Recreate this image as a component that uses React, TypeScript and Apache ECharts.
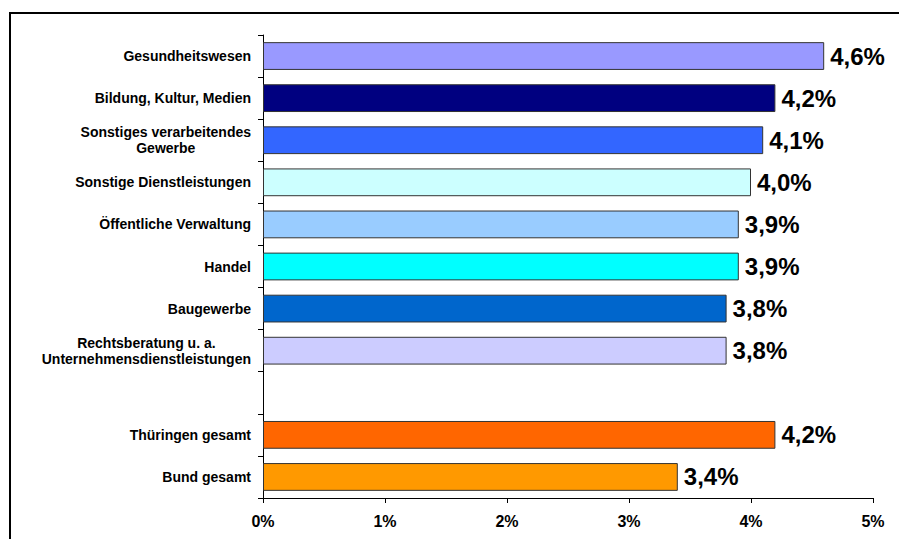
import React, { useEffect, useRef } from "react";
import * as echarts from "echarts";

const categories = [
  "Gesundheitswesen",
  "Bildung, Kultur, Medien",
  "Sonstiges verarbeitendes\nGewerbe",
  "Sonstige Dienstleistungen",
  "Öffentliche Verwaltung",
  "Handel",
  "Baugewerbe",
  "Rechtsberatung u. a.\nUnternehmensdienstleistungen",
  "",
  "Thüringen gesamt",
  "Bund gesamt",
];
const values: (number | null)[] = [4.6, 4.2, 4.1, 4.0, 3.9, 3.9, 3.8, 3.8, null, 4.2, 3.4];
const colors = [
  "#9999FF",
  "#000080",
  "#3366FF",
  "#CCFFFF",
  "#99CCFF",
  "#00FFFF",
  "#0066CC",
  "#CCCCFF",
  "#FFFFFF",
  "#FF6600",
  "#FF9900",
];
const xTicks = [0, 1, 2, 3, 4, 5];

const FONT = "'Liberation Sans', Arial, sans-serif";

export default function App() {
  const ref = useRef<HTMLDivElement>(null);
  useEffect(() => {
    if (!ref.current) return;
    const chart = echarts.init(ref.current, null, { renderer: "svg" });
    chart.setOption({
      animation: false,
      backgroundColor: "#ffffff",
      grid: { left: 263, right: 26, top: 35, bottom: 41, containLabel: false },
      xAxis: {
        type: "value",
        min: xTicks[0],
        max: xTicks[xTicks.length - 1],
        interval: 1,
        axisLine: { show: true, lineStyle: { color: "#000", width: 1 } },
        axisTick: { show: true, length: 5, lineStyle: { color: "#000" } },
        splitLine: { show: false },
        axisLabel: {
          margin: 15,
          fontFamily: FONT,
          fontWeight: "bold",
          fontSize: 16,
          color: "#000",
          formatter: (v: number) => `${v}%`,
        },
      },
      yAxis: {
        type: "category",
        inverse: true,
        data: categories,
        axisLine: { show: true, lineStyle: { color: "#000", width: 1 } },
        axisTick: { show: true, length: 5, lineStyle: { color: "#000" } },
        axisLabel: {
          margin: 12,
          fontFamily: FONT,
          fontWeight: "bold",
          fontSize: 14,
          color: "#000",
          lineHeight: 16,
          formatter: (v: string) =>
            v
              .split("\n")
              .map((l) => `{c|${l}}`)
              .join("\n"),
          rich: {
            c: {
              align: "center",
              fontFamily: FONT,
              fontWeight: "bold",
              fontSize: 14,
              color: "#000",
              lineHeight: 16,
            },
          },
        },
      },
      series: [
        {
          type: "bar",
          barCategoryGap: "34%",
          data: values.map((v, i) =>
            v === null
              ? "-"
              : {
                  value: v,
                  itemStyle: { color: colors[i], borderColor: "#333333", borderWidth: 1 },
                }
          ),
          label: {
            show: true,
            position: "right",
            distance: 6,
            fontFamily: FONT,
            fontWeight: "bold",
            fontSize: 24,
            color: "#000",
            formatter: (p: any) => `${Number(p.value).toFixed(1).replace(".", ",")}%`,
          },
        },
      ],
      graphic: [
        {
          type: "rect",
          silent: true,
          shape: { x: 10, y: 13, width: 950, height: 600 },
          style: { fill: "none", stroke: "#000", lineWidth: 2 },
        },
      ],
    });
    return () => chart.dispose();
  }, []);
  return (
    <div
      ref={ref}
      style={{ position: "absolute", left: 0, top: 0, width: 899, height: 539 }}
    />
  );
}
